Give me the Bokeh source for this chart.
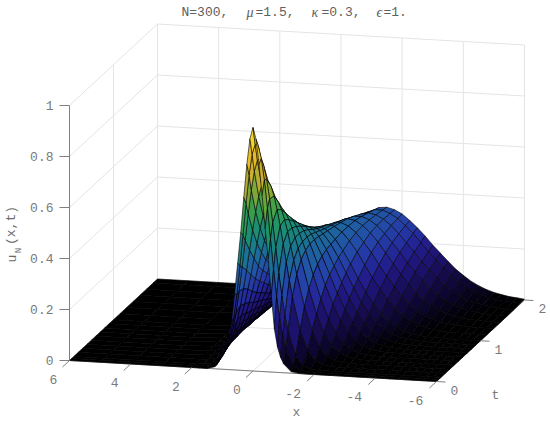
from bokeh.plotting import figure
from bokeh.models import Range1d, ColumnDataSource
from bokeh.transform import linear_cmap
from bokeh.core.properties import value
from bokeh.embed import file_html
from bokeh.resources import INLINE
import math

x_vals = [6, 5, 4, 3, 2, 1.75, 1.5, 1.25,
          1, .9, .8, .7, .6, .5, .4, .3, .2, .1, 0, -.1, -.2, -.3, -.4, -.5, -.6, -.7, -.8, -.9, -1,
          -1.25, -1.5, -1.75, -2, -2.25, -2.5, -2.75, -3, -3.25, -3.5, -3.75, -4, -4.25, -4.5, -4.75, -5, -5.25, -5.5, -5.75, -6]
t_vals = [0, .05, .1, .2, .3, .4, .5, .6, .7, .8, .9, 1, 1.15, 1.3, 1.45, 1.6, 1.75, 1.9, 2]

u_t000 = [0,0,0,0,0,0,0,.008,
 .05,.08,.12,.19,.3,.42,.54,.68,.81,.91,.955,.91,.81,.69,.56,.44,.3,.17,.1,.06,.035,
 .006,.001,0,0,0,0,0,0,0,0,0,0,0,0,0,0,0,0,0,0]
u_t005 = [0,0,0,0,0,0,.002,.009,
 .06,.09,.135,.197,.288,.40,.523,.647,.76,.842,.882,.876,.827,.742,.632,.512,.394,.288,.204,.135,.085,
 .021,.004,.001,0,0,0,0,0,0,0,0,0,0,0,0,0,0,0,0,0]
u_t010 = [0,0,0,0,0,0,.003,.015,
 .065,.094,.144,.208,.293,.389,.494,.6,.693,.767,.811,.819,.793,.738,.661,.568,.47,.373,.284,.208,.147,
 .052,.015,.003,.001,0,0,0,0,0,0,0,0,0,0,0,0,0,0,0,0]
u_t020 = [0,0,0,0,0,.002,.008,.027,
 .081,.117,.163,.22,.287,.361,.441,.52,.593,.654,.697,.719,.716,.695,.657,.604,.541,.471,.4,.33,.265,
 .136,.059,.022,.007,.002,0,0,0,0,0,0,0,0,0,0,0,0,0,0,0]
u_t030 = [0,0,0,0,.001,.004,.013,.038,
 .093,.124,.167,.212,.27,.326,.392,.452,.513,.562,.604,.63,.64,.635,.617,.588,.55,.503,.447,.392,.337,
 .212,.118,.056,.024,.009,.003,.001,0,0,0,0,0,0,0,0,0,0,0,0,0]
u_t040 = [0,0,0,0,.002,.006,.018,.044,
 .094,.125,.158,.201,.244,.296,.346,.4,.447,.494,.533,.559,.577,.58,.573,.557,.533,.502,.465,.424,.38,
 .267,.169,.096,.051,.024,.01,.004,.001,0,0,0,0,0,0,0,0,0,0,0,0]
u_t050 = [0,0,0,0,.003,.008,.02,.045,
 .094,.118,.149,.185,.225,.269,.312,.355,.4,.441,.477,.504,.524,.534,.534,.527,.512,.492,.465,.433,.4,
 .305,.213,.136,.081,.044,.022,.01,.004,.002,.001,0,0,0,0,0,0,0,0,0,0]
u_t060 = [0,0,0,0,.004,.01,.023,.048,
 .092,.116,.143,.173,.207,.247,.285,.323,.361,.397,.431,.46,.48,.494,.5,.498,.49,.477,.46,.436,.41,
 .332,.251,.177,.114,.068,.039,.02,.01,.004,.002,.001,0,0,0,0,0,0,0,0,0]
u_t070 = [0,0,0,0,.004,.01,.024,.048,
 .087,.109,.134,.163,.191,.224,.26,.292,.328,.362,.391,.419,.441,.457,.467,.47,.467,.46,.448,.431,.41,
 .347,.276,.205,.143,.094,.057,.033,.018,.009,.004,.002,.001,0,0,0,0,0,0,0,0]
u_t080 = [0,0,0,0,.005,.011,.023,.045,
 .082,.1,.124,.148,.174,.205,.235,.265,.299,.329,.357,.385,.407,.424,.437,.444,.445,.441,.433,.422,.407,
 .357,.295,.231,.17,.118,.078,.049,.028,.016,.008,.004,.002,.001,0,0,0,0,0,0,0]
u_t090 = [0,0,0,0,.005,.012,.024,.046,
 .08,.098,.119,.138,.163,.189,.217,.246,.275,.303,.331,.356,.379,.397,.411,.421,.425,.424,.42,.413,.401,
 .362,.311,.253,.196,.141,.098,.065,.041,.024,.014,.008,.004,.002,.001,0,0,0,0,0,0]
u_t100 = [0,0,0,0,.005,.012,.023,.043,
 .074,.09,.109,.128,.151,.176,.199,.227,.255,.28,.306,.332,.355,.372,.389,.401,.408,.41,.409,.404,.397,
 .365,.322,.272,.216,.166,.122,.084,.056,.036,.021,.012,.007,.004,.002,.001,0,0,0,0,0]
u_t115 = [0,0,0,0,.006,.012,.023,.041,
 .069,.085,.1,.118,.137,.16,.182,.205,.232,.256,.279,.305,.325,.344,.361,.376,.386,.393,.395,.394,.39,
 .37,.337,.295,.245,.198,.154,.113,.081,.054,.036,.023,.013,.008,.004,.002,.001,0,0,0,0]
u_t130 = [0,0,0,0,.006,.012,.022,.039,
 .063,.076,.091,.107,.124,.143,.164,.186,.208,.231,.254,.276,.298,.317,.335,.351,.364,.374,.38,.382,.381,
 .369,.345,.309,.27,.224,.182,.141,.104,.076,.052,.036,.023,.014,.008,.005,.003,.001,0,0,0]
u_t145 = [0,0,0,0,.006,.011,.021,.036,
 .058,.07,.082,.097,.113,.131,.148,.169,.19,.212,.231,.254,.275,.295,.312,.329,.344,.356,.364,.37,.372,
 .367,.349,.322,.287,.247,.206,.166,.129,.097,.07,.05,.034,.022,.014,.009,.005,.003,.001,0,0]
u_t160 = [0,0,0,0,.006,.011,.02,.033,
 .054,.065,.076,.09,.103,.12,.135,.154,.172,.193,.211,.233,.251,.272,.289,.307,.321,.335,.345,.353,.358,
 .359,.347,.327,.297,.263,.227,.187,.152,.12,.09,.067,.047,.032,.022,.014,.009,.005,.003,.001,0]
u_t175 = [0,0,0,0,.006,.01,.018,.031,
 .049,.058,.068,.081,.093,.106,.121,.139,.155,.172,.193,.211,.229,.249,.266,.282,.3,.313,.325,.335,.342,
 .349,.343,.328,.304,.274,.24,.205,.17,.139,.109,.083,.061,.044,.031,.021,.014,.009,.005,.003,.001]
u_t190 = [0,0,0,0,.005,.009,.016,.028,
 .044,.052,.061,.071,.084,.097,.11,.125,.14,.156,.173,.193,.211,.228,.245,.261,.277,.291,.304,.317,.326,
 .338,.337,.326,.308,.282,.253,.219,.184,.154,.122,.095,.073,.053,.039,.027,.018,.012,.008,.005,.002]
u_t200 = [0,0,0,0,.005,.009,.016,.026,
 .041,.048,.057,.066,.079,.091,.104,.118,.133,.148,.165,.181,.198,.215,.232,.249,.264,.279,.292,.304,.314,
 .33,.333,.325,.31,.286,.259,.229,.195,.165,.135,.106,.083,.062,.046,.033,.023,.016,.01,.007,.003]
u_rows = [u_t000, u_t005, u_t010, u_t020, u_t030, u_t040, u_t050, u_t060, u_t070, u_t080,
          u_t090, u_t100, u_t115, u_t130, u_t145, u_t160, u_t175, u_t190, u_t200]

x_ticks = [6, 4, 2, 0, -2, -4, -6]
t_ticks = [0, 1, 2]
z_ticks = [0, .2, .4, .6, .8, 1]
z_labels = ["0", "0.2", "0.4", "0.6", "0.8", "1"]
x_labels = ["6", "4", "2", "0", "-2", "-4", "-6"]
t_labels = ["0", "1", "2"]
color_stops = ["#000000", "#0a052a", "#150b4a", "#1c126c", "#221a88", "#2430a0", "#2445a8", "#205aa4",
               "#1c6c98", "#1a7c88", "#1a8a78", "#249662", "#389e4e", "#62a63e", "#96aa34", "#c8ae30",
               "#e2b22a", "#ecc426", "#f2d824", "#f8ec28"]


def smooth_palette(stops, per=8):
    rgb = [tuple(int(c[k:k + 2], 16) for k in (1, 3, 5)) for c in stops]
    out = []
    for a, b in zip(rgb, rgb[1:]):
        for s in range(per):
            f = s / per
            out.append("#%02x%02x%02x" % tuple(round(a[k] + (b[k] - a[k]) * f) for k in range(3)))
    out.append(stops[-1])
    return out


palette = smooth_palette(color_stops)

# orthographic view: pixel position of (x=6, t=0, z=0) and the pixel step per unit
O = (69.0, 360.0)
EX, ET, EZ = (-30.58, -1.75), (44.0, -40.75), (0.0, -255.0)


def P(x, t, z=0.0):
    d = 6 - x
    return (O[0] - EX[0] * d + ET[0] * t + EZ[0] * z,
            O[1] - EX[1] * d + ET[1] * t + EZ[1] * z)


p = figure(width=550, height=424, x_range=Range1d(0, 550), y_range=Range1d(424, 0),
           output_backend="svg", toolbar_location=None, min_border=0)
p.xaxis.visible = False
p.yaxis.visible = False
p.grid.visible = False
p.outline_line_color = None
p.background_fill_color = "white"
p.border_fill_color = "white"

GRID = "#e4e4e4"
AX = "#7f7f7f"
TXT = "#7a7a7a"
FONT = value("Liberation Mono")


def seg(a, b, color=GRID, w=1.0):
    p.line([a[0], b[0]], [a[1], b[1]], line_color=color, line_width=w)


# grid lines on the back wall, side wall and floor
for x in x_ticks:
    seg(P(x, 2, 0), P(x, 2, 1))
    seg(P(x, 0, 0), P(x, 2, 0))
for t in t_ticks:
    seg(P(6, t, 0), P(6, t, 1))
    seg(P(6, t, 0), P(-6, t, 0))
for z in z_ticks:
    seg(P(6, 2, z), P(-6, 2, z))
    seg(P(6, 0, z), P(6, 2, z))

# axis rulers below the surface
seg(P(6, 0, 0), P(6, 0, 1), AX)
seg(P(6, 0, 0), P(-6, 0, 0), AX)
seg(P(-6, 0, 0), P(-6, 2, 0), AX)

# surface, back to front
xs, ys, cs = [], [], []
for i in range(len(t_vals) - 1, 0, -1):
    hi, lo = u_rows[i], u_rows[i - 1]
    for j in range(len(x_vals) - 1):
        corners = [P(x_vals[j], t_vals[i], hi[j]), P(x_vals[j + 1], t_vals[i], hi[j + 1]),
                   P(x_vals[j + 1], t_vals[i - 1], lo[j + 1]), P(x_vals[j], t_vals[i - 1], lo[j])]
        xs.append([c[0] for c in corners])
        ys.append([c[1] for c in corners])
        cs.append((hi[j] + hi[j + 1] + lo[j] + lo[j + 1]) / 4)
src = ColumnDataSource(dict(xs=xs, ys=ys, c=cs))
p.patches("xs", "ys", source=src, fill_color=linear_cmap("c", palette, 0, 0.955),
          line_color="#000000", line_width=0.6, line_alpha=1.0)

for z in z_ticks:
    a = P(6, 0, z)
    seg(a, (a[0] - 10, a[1]), AX)
for x in x_ticks:
    a = P(x, 0, 0)
    seg(a, (a[0] - 7, a[1] + 6.5), AX)
for t in t_ticks:
    a = P(-6, t, 0)
    seg(a, (a[0] + 9, a[1] + .5), AX)


def label(px, py, s, size="13px", align="center", font=FONT, style="normal", angle=0.0, color=TXT):
    p.text([px], [py], text=[s], text_font=font, text_font_size=size, text_align=align,
           text_baseline="middle", text_color=color, text_font_style=style, angle=angle)


for z, s in zip(z_ticks, z_labels):
    a = P(6, 0, z)
    label(a[0] - 16, a[1], s, align="right")
for x, s in zip(x_ticks, x_labels):
    a = P(x, 0, 0)
    label(a[0] - (21 if x < 0 else 16), a[1] + 18.5, s)
for t, s in zip(t_ticks, t_labels):
    a = P(-6, t, 0)
    label(a[0] + 18, a[1] + 8.5, s)
label(296, 412, "x")
label(495, 395, "t")

TITLE = "#606060"
SERIF = value("Liberation Serif")
label(181, 12, "N=300,", align="left", color=TITLE)
label(246, 12, "μ", size="14px", align="left", font=SERIF, style="italic", color=TITLE)
label(255, 12, "=1.5,", align="left", color=TITLE)
label(311, 12, "κ", size="14px", align="left", font=SERIF, style="italic", color=TITLE)
label(321, 12, "=0.3,", align="left", color=TITLE)
label(376, 12, "ϵ", size="14px", align="left", font=SERIF, style="italic", color=TITLE)
label(383, 12, "=1.", align="left", color=TITLE)

label(12, 258, "u", angle=math.pi / 2, color="#6a6a6a")
label(18, 250, "N", size="9px", angle=math.pi / 2, color="#6a6a6a")
label(11, 225, "(x,t)", angle=math.pi / 2, color="#6a6a6a")

for r in u_rows:
    assert len(r) == len(x_vals)
assert len(u_rows) == len(t_vals)

open("out.html", "w").write(file_html(p, INLINE))
